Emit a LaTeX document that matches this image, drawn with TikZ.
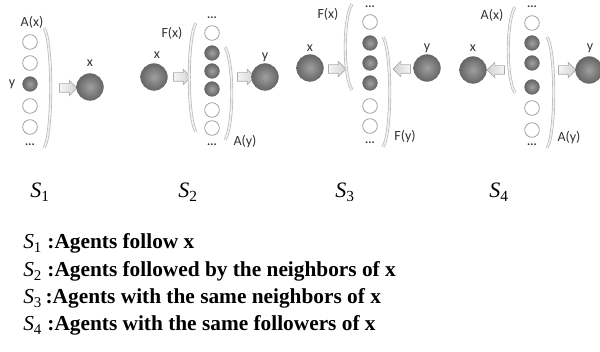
\documentclass[tikz,border=0pt]{standalone}
\usepackage{fontspec}
\setmainfont{Liberation Serif}
\newfontfamily\lblfont{Carlito}
\usetikzlibrary{shapes.arrows}
\begin{document}
\begin{tikzpicture}[x=0.75pt,y=-0.75pt,
 emp/.style={circle,draw=gray!75,line width=0.6pt,fill=white,minimum size=11pt,inner sep=0pt},
 ful/.style={circle,draw=gray!80!black,line width=0.4pt,inner color=gray!75,outer color=black!60,minimum size=11pt,inner sep=0pt},
 big/.style={ful,minimum size=20pt},
 lbl/.style={font=\lblfont\fontsize{10.5}{12}\selectfont,text=black!80,inner sep=0pt},
 dts/.style={font=\lblfont\bfseries\fontsize{9}{9}\selectfont,text=black!80,inner sep=0pt},
 blk/.style={single arrow,draw=gray!65,left color=gray!8,right color=gray!35,minimum height=13pt,single arrow head extend=2.5pt,inner sep=0pt,line width=0.5pt},
 brk/.style={draw=gray!55,double=gray!12,double distance=1.2pt,line width=0.5pt},
 sl/.style={font=\fontsize{16.5}{18}\selectfont,anchor=base west,inner sep=0pt},
 desc/.style={font=\fontsize{16}{18}\selectfont,anchor=base west,inner sep=0pt}]
\useasboundingbox (0,0) rectangle (600,352);
\newcommand{\shaft}{\rule{0pt}{6pt}}

% ---------- S1 ----------
\node[lbl] (a-lab) at (32,22) {A(x)};
\node[emp] (a1) at (30,42) {};
\node[emp] (a2) at (30,63) {};
\node[ful] (a3) at (30,84) {};
\node[emp] (a4) at (30,106) {};
\node[emp] (a5) at (30,127) {};
\node[dts] (a-db) at (30,145) {...};
\node[lbl] (a-y) at (12,84) {y};
\draw[brk] (44,28) .. controls (53,42) and (53,134) .. (44,148);
\node[blk] (a-ar) at (66,88) {\shaft};
\node[big] (a-x) at (90,87) {};
\node[lbl] (a-xl) at (90,63) {x};

% ---------- S2 ----------
\node[big] (b-x) at (154,77) {};
\node[lbl] (b-xl) at (157,55) {x};
\node[blk] (b-ar1) at (180,77) {\shaft};
\node[lbl] (b-F) at (172,33) {F(x)};
\draw[brk] (196,23) .. controls (187,37) and (187,118) .. (196,132);
\node[dts] (b-dt) at (212,18) {...};
\node[emp] (b1) at (212,33) {};
\node[ful] (b2) at (212,53) {};
\node[ful] (b3) at (212,71) {};
\node[ful] (b4) at (212,89) {};
\node[emp] (b5) at (212,110) {};
\node[emp] (b6) at (212,128) {};
\node[dts] (b-db) at (212,145) {...};
\draw[brk] (225,47) .. controls (234,61) and (234,126) .. (225,140);
\node[lbl] (b-A) at (245,142) {A(y)};
\node[blk] (b-ar2) at (244,77) {\shaft};
\node[big] (b-y) at (265,77) {};
\node[lbl] (b-yl) at (265,57) {y};

% ---------- S3 ----------
\node[big] (c-x) at (310,68) {};
\node[lbl] (c-xl) at (310,48) {x};
\node[blk] (c-ar1) at (335,69) {\shaft};
\node[lbl] (c-F) at (328,14) {F(x)};
\draw[brk] (352,4) .. controls (343,18) and (343,76) .. (352,90);
\node[dts] (c-dt) at (370,7) {...};
\node[emp] (c1) at (370,22) {};
\node[ful] (c2) at (370,43) {};
\node[ful] (c3) at (370,63) {};
\node[ful] (c4) at (370,83) {};
\node[emp] (c5) at (370,106) {};
\node[emp] (c6) at (370,126) {};
\node[dts] (c-db) at (370,143) {...};
\draw[brk] (383,37) .. controls (392,51) and (392,133) .. (383,147);
\node[lbl] (c-Fy) at (405,137) {F(y)};
\node[blk,shape border rotate=180,left color=gray!35,right color=gray!8] (c-ar2) at (404,69) {\shaft};
\node[big] (c-y) at (427,68) {};
\node[lbl] (c-yl) at (427,48) {y};

% ---------- S4 ----------
\node[big] (d-x) at (473,70) {};
\node[lbl] (d-xl) at (473,48) {x};
\node[blk,shape border rotate=180,left color=gray!35,right color=gray!8] (d-ar1) at (498,70) {\shaft};
\node[lbl] (d-A) at (492,15) {A(x)};
\draw[brk] (515,7) .. controls (506,21) and (506,79) .. (515,93);
\node[dts] (d-dt) at (532,7) {...};
\node[emp] (d1) at (532,23) {};
\node[ful] (d2) at (532,43) {};
\node[ful] (d3) at (532,63) {};
\node[ful] (d4) at (532,87) {};
\node[emp] (d5) at (532,108) {};
\node[emp] (d6) at (532,130) {};
\node[dts] (d-db) at (532,145) {...};
\draw[brk] (547,37) .. controls (556,51) and (556,134) .. (547,148);
\node[lbl] (d-Ay) at (569,138) {A(y)};
\node[blk] (d-ar2) at (565,70) {\shaft};
\node[big] (d-y) at (589,70) {};
\node[lbl] (d-yl) at (590,48) {y};

% ---------- S labels ----------
\node[sl] (s1) at (30,198) {\textit{S}\textsubscript{1}};
\node[sl] (s2) at (178,198) {\textit{S}\textsubscript{2}};
\node[sl] (s3) at (335,198) {\textit{S}\textsubscript{3}};
\node[sl] (s4) at (489,198) {\textit{S}\textsubscript{4}};

% ---------- descriptions ----------
\node[desc] (t1) at (23,249) {\textit{S}\textsubscript{1} \textbf{:Agents follow x}};
\node[desc] (t2) at (23,277) {\textit{S}\textsubscript{2} \textbf{:Agents followed by the neighbors of x}};
\node[desc] (t3) at (23,304) {\textit{S}\textsubscript{3}\,\textbf{:Agents with the same neighbors of x}};
\node[desc] (t4) at (23,331) {\textit{S}\textsubscript{4} \textbf{:Agents with the same followers of x}};
\end{tikzpicture}
\end{document}
